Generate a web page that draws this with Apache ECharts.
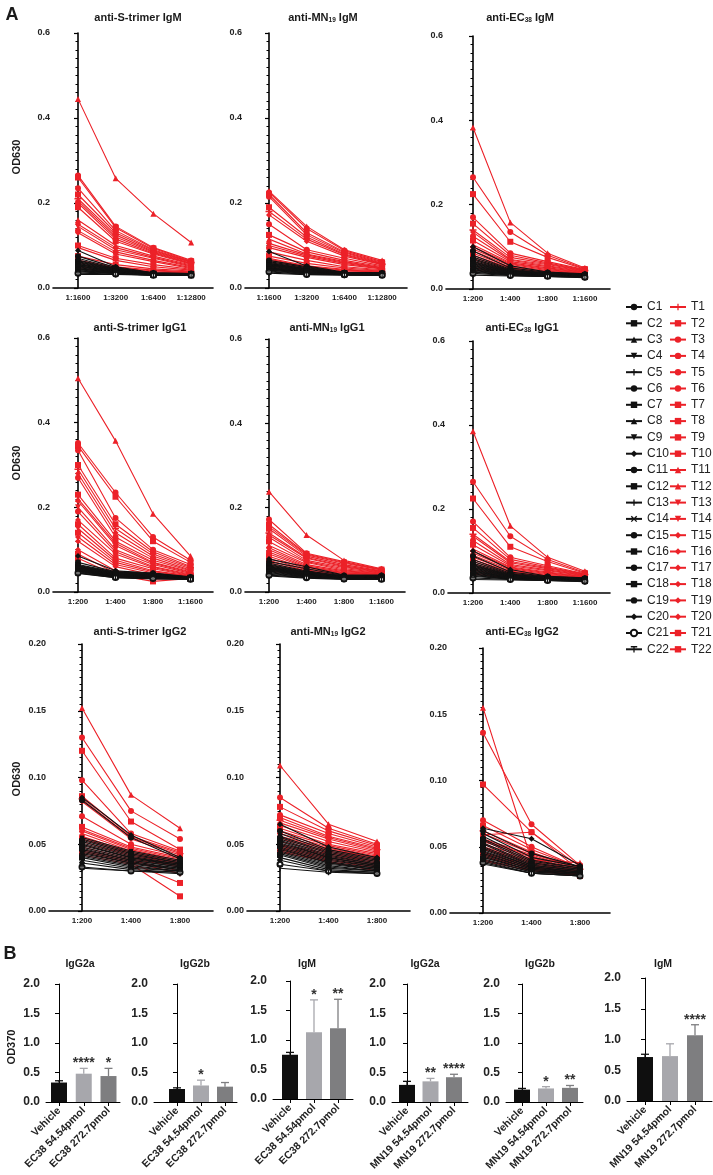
<!DOCTYPE html>
<html><head><meta charset="utf-8">
<script src="https://cdn.jsdelivr.net/npm/echarts@6/dist/echarts.min.js"></script>
<style>html,body{margin:0;padding:0;background:#fff}#c{width:713px;height:1175px}</style>
</head><body><div id="c"></div>
<script>
// ---------- categories ----------
const DIL_A = ['1:1600','1:3200','1:6400','1:12800'];
const DIL_B = ['1:200','1:400','1:800','1:1600'];
const DIL_C = ['1:200','1:400','1:800'];
const C_NAMES = ['C1','C2','C3','C4','C5','C6','C7','C8','C9','C10','C11','C12','C13','C14','C15','C16','C17','C18','C19','C20','C21','C22'];
const T_NAMES = ['T1','T2','T3','T4','T5','T6','T7','T8','T9','T10','T11','T12','T13','T14','T15','T16','T17','T18','T19','T20','T21','T22'];
// animal number for each rank (rank 0 = highest responder)
const T_ORDER = [11,3,7,4,8,1,15,5,9,12,16,13,6,17,10,14,2,18,19,20,21,22];
const C_ORDER = [10,6,2,3,15,7,11,16,4,17,18,19,8,9,1,13,5,12,14,20,21,22];

// ---------- line data: one row per dilution, 22 animals per row (by rank) ----------
const sIgM_T = [
 [0.445,0.265,0.26,0.235,0.22,0.21,0.205,0.2,0.19,0.16,0.15,0.145,0.135,0.13,0.1,0.095,0.075,0.065,0.06,0.055,0.05,0.045],
 [0.258,0.145,0.142,0.135,0.13,0.125,0.12,0.115,0.11,0.1,0.095,0.09,0.085,0.08,0.07,0.065,0.055,0.05,0.048,0.045,0.042,0.04],
 [0.175,0.095,0.093,0.09,0.088,0.086,0.084,0.082,0.08,0.075,0.072,0.07,0.065,0.062,0.055,0.05,0.045,0.042,0.04,0.038,0.036,0.035],
 [0.107,0.065,0.063,0.062,0.061,0.06,0.058,0.057,0.056,0.054,0.052,0.05,0.048,0.046,0.044,0.042,0.04,0.038,0.037,0.036,0.035,0.034]];
const sIgM_C = [
 [0.088,0.075,0.07,0.066,0.064,0.062,0.06,0.058,0.056,0.055,0.053,0.052,0.05,0.048,0.046,0.045,0.043,0.041,0.04,0.038,0.035,0.032],
 [0.05,0.048,0.046,0.045,0.044,0.043,0.042,0.041,0.04,0.04,0.039,0.038,0.037,0.037,0.036,0.036,0.035,0.035,0.034,0.034,0.033,0.032],
 [0.036,0.035,0.035,0.034,0.034,0.034,0.033,0.033,0.033,0.033,0.032,0.032,0.032,0.032,0.031,0.031,0.031,0.031,0.03,0.03,0.03,0.03],
 [0.034,0.034,0.033,0.033,0.033,0.033,0.032,0.032,0.032,0.032,0.032,0.031,0.031,0.031,0.031,0.031,0.03,0.03,0.03,0.03,0.03,0.03]];
const mnIgM_T = [
 [0.228,0.225,0.22,0.215,0.19,0.18,0.172,0.15,0.125,0.115,0.105,0.1,0.095,0.085,0.075,0.07,0.068,0.065,0.06,0.055,0.05,0.045],
 [0.145,0.14,0.13,0.125,0.12,0.115,0.11,0.09,0.085,0.08,0.078,0.075,0.072,0.065,0.058,0.052,0.05,0.048,0.045,0.042,0.04,0.038],
 [0.09,0.088,0.085,0.083,0.08,0.078,0.075,0.07,0.065,0.062,0.06,0.058,0.055,0.05,0.047,0.044,0.042,0.04,0.038,0.036,0.035,0.034],
 [0.065,0.062,0.06,0.058,0.057,0.056,0.055,0.052,0.05,0.048,0.047,0.046,0.045,0.043,0.041,0.04,0.039,0.038,0.036,0.035,0.034,0.033]];
const mnIgM_C = [
 [0.086,0.065,0.062,0.06,0.058,0.057,0.056,0.055,0.054,0.053,0.052,0.05,0.049,0.048,0.047,0.046,0.045,0.043,0.042,0.04,0.038,0.035],
 [0.052,0.05,0.048,0.046,0.045,0.044,0.043,0.042,0.041,0.04,0.039,0.038,0.037,0.036,0.036,0.035,0.035,0.034,0.034,0.033,0.032,0.031],
 [0.037,0.036,0.036,0.035,0.035,0.035,0.034,0.034,0.034,0.034,0.033,0.033,0.033,0.033,0.032,0.032,0.032,0.032,0.031,0.031,0.031,0.03],
 [0.036,0.035,0.035,0.034,0.034,0.034,0.034,0.033,0.033,0.033,0.033,0.033,0.032,0.032,0.032,0.032,0.031,0.031,0.031,0.03,0.03,0.03]];
const ecIgM_T = [
 [0.383,0.265,0.225,0.17,0.155,0.14,0.135,0.125,0.115,0.105,0.1,0.095,0.09,0.085,0.08,0.075,0.07,0.065,0.06,0.055,0.05,0.045],
 [0.158,0.135,0.112,0.085,0.08,0.075,0.07,0.068,0.065,0.062,0.06,0.058,0.055,0.052,0.05,0.048,0.046,0.044,0.042,0.04,0.038,0.036],
 [0.085,0.08,0.075,0.065,0.062,0.06,0.058,0.055,0.053,0.05,0.048,0.046,0.044,0.042,0.04,0.039,0.038,0.037,0.036,0.035,0.034,0.033],
 [0.05,0.048,0.047,0.046,0.045,0.044,0.043,0.042,0.041,0.04,0.039,0.038,0.037,0.036,0.035,0.034,0.033,0.033,0.032,0.031,0.031,0.03]];
const ecIgM_C = [
 [0.1,0.09,0.08,0.076,0.072,0.069,0.066,0.064,0.062,0.06,0.058,0.056,0.054,0.052,0.05,0.048,0.046,0.044,0.042,0.04,0.037,0.033],
 [0.055,0.05,0.047,0.045,0.044,0.043,0.042,0.041,0.04,0.039,0.038,0.037,0.036,0.036,0.035,0.035,0.034,0.034,0.033,0.033,0.032,0.031],
 [0.04,0.039,0.038,0.037,0.036,0.036,0.035,0.035,0.034,0.034,0.033,0.033,0.033,0.032,0.032,0.032,0.031,0.031,0.031,0.03,0.03,0.03],
 [0.036,0.035,0.034,0.034,0.033,0.033,0.032,0.032,0.032,0.031,0.031,0.031,0.03,0.03,0.03,0.03,0.029,0.029,0.029,0.028,0.028,0.027]];
const sIgG1_T = [
 [0.505,0.352,0.345,0.335,0.3,0.29,0.28,0.27,0.23,0.22,0.215,0.2,0.19,0.17,0.16,0.15,0.14,0.13,0.12,0.1,0.09,0.08],
 [0.357,0.235,0.225,0.175,0.16,0.15,0.14,0.13,0.12,0.115,0.11,0.1,0.095,0.09,0.08,0.075,0.07,0.065,0.06,0.05,0.045,0.04],
 [0.185,0.13,0.12,0.1,0.095,0.09,0.085,0.08,0.075,0.07,0.068,0.065,0.06,0.058,0.055,0.05,0.048,0.045,0.04,0.035,0.03,0.025],
 [0.085,0.075,0.07,0.065,0.06,0.058,0.055,0.052,0.05,0.048,0.046,0.044,0.042,0.04,0.039,0.038,0.037,0.036,0.035,0.034,0.033,0.032]];
const sIgG1_C = [
 [0.085,0.07,0.065,0.063,0.062,0.061,0.06,0.059,0.058,0.057,0.056,0.055,0.054,0.053,0.052,0.051,0.05,0.049,0.048,0.046,0.045,0.044],
 [0.05,0.048,0.047,0.046,0.045,0.044,0.043,0.042,0.041,0.04,0.04,0.039,0.038,0.038,0.037,0.037,0.036,0.036,0.035,0.035,0.034,0.034],
 [0.045,0.044,0.043,0.042,0.041,0.04,0.04,0.039,0.038,0.038,0.037,0.036,0.036,0.035,0.035,0.034,0.034,0.033,0.033,0.032,0.032,0.031],
 [0.036,0.035,0.035,0.034,0.034,0.034,0.033,0.033,0.033,0.033,0.032,0.032,0.032,0.032,0.031,0.031,0.031,0.031,0.03,0.03,0.03,0.03]];
const mnIgG1_T = [
 [0.238,0.172,0.16,0.155,0.15,0.14,0.135,0.13,0.12,0.11,0.105,0.1,0.095,0.09,0.085,0.08,0.075,0.07,0.065,0.06,0.055,0.05],
 [0.135,0.092,0.09,0.088,0.085,0.082,0.08,0.075,0.072,0.07,0.065,0.062,0.06,0.058,0.055,0.052,0.05,0.048,0.045,0.043,0.042,0.04],
 [0.075,0.072,0.07,0.068,0.065,0.062,0.06,0.058,0.055,0.052,0.05,0.048,0.046,0.045,0.044,0.042,0.04,0.039,0.038,0.037,0.036,0.035],
 [0.055,0.054,0.053,0.052,0.05,0.049,0.048,0.047,0.046,0.045,0.044,0.043,0.042,0.041,0.04,0.039,0.038,0.037,0.036,0.035,0.034,0.033]];
const mnIgG1_C = [
 [0.078,0.072,0.068,0.066,0.064,0.062,0.06,0.059,0.058,0.057,0.056,0.055,0.054,0.053,0.052,0.05,0.048,0.046,0.044,0.042,0.04,0.038],
 [0.06,0.055,0.05,0.048,0.047,0.046,0.045,0.044,0.043,0.042,0.041,0.04,0.04,0.039,0.038,0.038,0.037,0.036,0.036,0.035,0.034,0.033],
 [0.04,0.039,0.038,0.037,0.037,0.036,0.036,0.035,0.035,0.035,0.034,0.034,0.034,0.033,0.033,0.033,0.032,0.032,0.032,0.031,0.031,0.03],
 [0.04,0.039,0.038,0.037,0.036,0.036,0.035,0.035,0.034,0.034,0.034,0.033,0.033,0.033,0.032,0.032,0.032,0.031,0.031,0.031,0.03,0.03]];
const ecIgG1_T = [
 [0.385,0.265,0.225,0.17,0.155,0.14,0.135,0.125,0.115,0.105,0.1,0.095,0.09,0.085,0.08,0.075,0.07,0.065,0.06,0.055,0.05,0.045],
 [0.16,0.135,0.11,0.085,0.08,0.075,0.072,0.068,0.065,0.062,0.06,0.058,0.055,0.052,0.05,0.048,0.046,0.044,0.042,0.04,0.038,0.036],
 [0.085,0.08,0.075,0.065,0.062,0.06,0.058,0.055,0.053,0.05,0.048,0.046,0.044,0.042,0.04,0.039,0.038,0.037,0.036,0.035,0.034,0.033],
 [0.052,0.049,0.047,0.046,0.045,0.044,0.043,0.042,0.041,0.04,0.039,0.038,0.037,0.036,0.035,0.034,0.033,0.033,0.032,0.031,0.031,0.03]];
const ecIgG1_C = [
 [0.1,0.088,0.08,0.075,0.071,0.068,0.066,0.064,0.062,0.06,0.058,0.056,0.054,0.052,0.05,0.048,0.046,0.044,0.042,0.04,0.036,0.032],
 [0.056,0.05,0.047,0.045,0.044,0.043,0.042,0.041,0.04,0.039,0.038,0.037,0.036,0.036,0.035,0.035,0.034,0.034,0.033,0.033,0.032,0.031],
 [0.04,0.039,0.038,0.037,0.036,0.036,0.035,0.035,0.034,0.034,0.033,0.033,0.033,0.032,0.032,0.032,0.031,0.031,0.031,0.03,0.03,0.03],
 [0.036,0.035,0.034,0.034,0.033,0.033,0.032,0.032,0.032,0.031,0.031,0.031,0.03,0.03,0.03,0.03,0.029,0.029,0.029,0.028,0.028,0.027]];
const sIgG2_T = [
 [0.152,0.13,0.12,0.098,0.086,0.084,0.082,0.071,0.063,0.061,0.06,0.058,0.056,0.055,0.054,0.052,0.05,0.048,0.046,0.045,0.044,0.042],
 [0.087,0.075,0.067,0.058,0.056,0.055,0.054,0.05,0.048,0.047,0.046,0.045,0.044,0.043,0.042,0.041,0.04,0.039,0.038,0.037,0.036,0.035],
 [0.062,0.054,0.046,0.045,0.044,0.043,0.042,0.041,0.04,0.039,0.038,0.037,0.036,0.036,0.035,0.035,0.034,0.033,0.03,0.028,0.021,0.011]];
const sIgG2_C = [
 [0.085,0.083,0.055,0.054,0.053,0.052,0.051,0.05,0.049,0.048,0.047,0.046,0.045,0.044,0.043,0.042,0.041,0.04,0.038,0.036,0.033,0.032],
 [0.057,0.055,0.045,0.044,0.043,0.042,0.041,0.04,0.04,0.039,0.038,0.038,0.037,0.036,0.036,0.035,0.034,0.033,0.032,0.031,0.03,0.03],
 [0.04,0.039,0.038,0.037,0.036,0.036,0.035,0.035,0.034,0.034,0.033,0.033,0.032,0.032,0.031,0.031,0.03,0.03,0.03,0.029,0.029,0.028]];
const mnIgG2_T = [
 [0.109,0.085,0.078,0.072,0.07,0.068,0.066,0.064,0.062,0.06,0.058,0.056,0.055,0.054,0.052,0.05,0.049,0.048,0.047,0.046,0.045,0.044],
 [0.065,0.062,0.06,0.058,0.056,0.055,0.054,0.052,0.05,0.049,0.048,0.047,0.046,0.045,0.044,0.043,0.042,0.041,0.04,0.039,0.038,0.037],
 [0.052,0.05,0.049,0.048,0.047,0.046,0.045,0.044,0.043,0.042,0.041,0.04,0.04,0.039,0.038,0.037,0.036,0.035,0.034,0.033,0.032,0.03]];
const mnIgG2_C = [
 [0.065,0.06,0.058,0.056,0.055,0.054,0.053,0.052,0.051,0.05,0.049,0.048,0.047,0.046,0.045,0.044,0.043,0.042,0.04,0.038,0.035,0.032],
 [0.048,0.046,0.045,0.044,0.043,0.042,0.041,0.04,0.04,0.039,0.038,0.037,0.036,0.036,0.035,0.034,0.033,0.032,0.031,0.03,0.03,0.029],
 [0.04,0.039,0.038,0.037,0.036,0.035,0.035,0.034,0.034,0.033,0.033,0.032,0.032,0.031,0.031,0.03,0.03,0.03,0.029,0.029,0.028,0.028]];
const ecIgG2_T = [
 [0.155,0.136,0.097,0.07,0.066,0.062,0.06,0.059,0.056,0.055,0.054,0.052,0.05,0.049,0.048,0.046,0.045,0.044,0.043,0.042,0.04,0.039],
 [0.04,0.067,0.061,0.05,0.048,0.046,0.045,0.061,0.044,0.043,0.042,0.041,0.04,0.039,0.038,0.037,0.036,0.035,0.034,0.034,0.033,0.032],
 [0.038,0.036,0.035,0.034,0.034,0.033,0.033,0.032,0.032,0.031,0.031,0.031,0.03,0.03,0.03,0.029,0.029,0.029,0.028,0.028,0.028,0.028]];
const ecIgG2_C = [
 [0.064,0.062,0.06,0.058,0.056,0.055,0.053,0.052,0.05,0.049,0.048,0.047,0.046,0.045,0.044,0.043,0.042,0.041,0.04,0.039,0.038,0.037],
 [0.056,0.045,0.042,0.04,0.039,0.038,0.037,0.036,0.036,0.035,0.035,0.034,0.034,0.033,0.033,0.032,0.032,0.031,0.031,0.03,0.03,0.03],
 [0.036,0.035,0.035,0.034,0.034,0.033,0.033,0.032,0.032,0.031,0.031,0.031,0.03,0.03,0.03,0.03,0.029,0.029,0.029,0.028,0.028,0.028]];

// ---------- bar data (panel B) ----------
const EC38_LABELS = ['Vehicle','EC38 54.54pmol','EC38 272.7pmol'];
const MN19_LABELS = ['Vehicle','MN19 54.54pmol','MN19 272.7pmol'];
const EC38_G2A = [0.33,0.48,0.44], EC38_G2A_ERR = [0.03,0.09,0.13], EC38_G2A_SIG = ['','****','*'];
const EC38_G2B = [0.22,0.28,0.26], EC38_G2B_ERR = [0.02,0.09,0.07], EC38_G2B_SIG = ['','*',''];
const EC38_M   = [0.75,1.13,1.2],  EC38_M_ERR   = [0.04,0.55,0.49], EC38_M_SIG   = ['','*','**'];
const MN19_G2A = [0.29,0.35,0.42], MN19_G2A_ERR = [0.06,0.05,0.05], MN19_G2A_SIG = ['','**','****'];
const MN19_G2B = [0.21,0.23,0.24], MN19_G2B_ERR = [0.02,0.03,0.04], MN19_G2B_SIG = ['','*','**'];
const MN19_M   = [0.715,0.73,1.07], MN19_M_ERR  = [0.045,0.2,0.17], MN19_M_SIG   = ['','','****'];

// ---------- styles ----------
const FONT = 'Arial, "Liberation Sans", Helvetica, sans-serif';
const RED = '#ec2128', BLACK = '#111111';
const BAR_COLORS = ['#0f0f0f','#a7a7ac','#7e7e80'];
const INV_TRI = 'path://M0,0L10,0L5,9Z';
const PLUS = 'path://M4,0H6V4H10V6H6V10H4V6H0V4H4Z';
const CROSS = 'path://M1.5,0L5,3.5L8.5,0L10,1.5L6.5,5L10,8.5L8.5,10L5,6.5L1.5,10L0,8.5L3.5,5L0,1.5Z';
const DASH = 'path://M0,4H10V6H0Z';
const TBAR = 'path://M0,0H10V2H6V10H4V2H0Z';
const C_SYM = ['circle','rect','triangle',INV_TRI,PLUS,'circle','rect','triangle',INV_TRI,'diamond','circle',DASH,PLUS,CROSS,'circle','rect','circle','rect','circle','diamond','emptyCircle',TBAR];
const C_SIZE = [4,4,5,5,5,6,6,6,6,6,6,6,6,6,6,6,6,6,6,6,5,6];
const T_SYM = [PLUS,DASH,'circle','circle','circle','circle','rect','rect','rect','rect','triangle','triangle',INV_TRI,INV_TRI,'diamond','diamond','diamond','diamond','diamond','diamond',DASH,'rect'];
const T_SIZE = [7,6,6,6,6,6,6,6,6,6,6,6,6,6,6,6,6,6,6,6,6,6];

const LINE_PANELS = [
 {title:'{m|anti-S-trimer IgM}', tx:138, ty:18, x0:53, x1:213, c0:78, s:37.7, top:33, bot:288, max:0.6, iv:0.2, dec:1, cats:DIL_A, T:sIgM_T, C:sIgM_C},
 {title:'{m|anti-MN}{s|19}{m| IgM}', tx:323, ty:18, x0:245, x1:407, c0:269, s:37.7, top:33, bot:288, max:0.6, iv:0.2, dec:1, cats:DIL_A, T:mnIgM_T, C:mnIgM_C},
 {title:'{m|anti-EC}{s|38}{m| IgM}', tx:520, ty:18, x0:446, x1:610, c0:473, s:37.3, top:36, bot:289, max:0.6, iv:0.2, dec:1, cats:DIL_B, T:ecIgM_T, C:ecIgM_C},
 {title:'{m|anti-S-trimer IgG1}', tx:140, ty:328, x0:53, x1:213, c0:78, s:37.5, top:338, bot:592, max:0.6, iv:0.2, dec:1, cats:DIL_B, T:sIgG1_T, C:sIgG1_C},
 {title:'{m|anti-MN}{s|19}{m| IgG1}', tx:327, ty:328, x0:245, x1:405, c0:269, s:37.5, top:339, bot:592, max:0.6, iv:0.2, dec:1, cats:DIL_B, T:mnIgG1_T, C:mnIgG1_C},
 {title:'{m|anti-EC}{s|38}{m| IgG1}', tx:522, ty:328, x0:448, x1:610, c0:473, s:37.3, top:341, bot:593, max:0.6, iv:0.2, dec:1, cats:DIL_B, T:ecIgG1_T, C:ecIgG1_C},
 {title:'{m|anti-S-trimer IgG2}', tx:140, ty:632, x0:49, x1:213, c0:82, s:49, top:644, bot:911, max:0.2, iv:0.05, dec:2, cats:DIL_C, T:sIgG2_T, C:sIgG2_C},
 {title:'{m|anti-MN}{s|19}{m| IgG2}', tx:328, ty:632, x0:247, x1:410, c0:280, s:48.5, top:644, bot:911, max:0.2, iv:0.05, dec:2, cats:DIL_C, T:mnIgG2_T, C:mnIgG2_C},
 {title:'{m|anti-EC}{s|38}{m| IgG2}', tx:522, ty:632, x0:450, x1:610, c0:483, s:48.5, top:648, bot:913, max:0.2, iv:0.05, dec:2, cats:DIL_C, T:ecIgG2_T, C:ecIgG2_C}
];
const BAR_PANELS = [
 {title:'IgG2a', tx:80, x0:46, x1:120, c0:59, s:24.75, top:984, bot:1102, labels:EC38_LABELS, vals:EC38_G2A, err:EC38_G2A_ERR, sig:EC38_G2A_SIG},
 {title:'IgG2b', tx:195, x0:154, x1:237, c0:177, s:24, top:984, bot:1102, labels:EC38_LABELS, vals:EC38_G2B, err:EC38_G2B_ERR, sig:EC38_G2B_SIG},
 {title:'IgM', tx:307, x0:273, x1:353, c0:290, s:24, top:981, bot:1099, labels:EC38_LABELS, vals:EC38_M, err:EC38_M_ERR, sig:EC38_M_SIG},
 {title:'IgG2a', tx:425, x0:392, x1:468, c0:407, s:23.5, top:984, bot:1102, labels:MN19_LABELS, vals:MN19_G2A, err:MN19_G2A_ERR, sig:MN19_G2A_SIG},
 {title:'IgG2b', tx:540, x0:506, x1:583, c0:522, s:24, top:984, bot:1102, labels:MN19_LABELS, vals:MN19_G2B, err:MN19_G2B_ERR, sig:MN19_G2B_SIG},
 {title:'IgM', tx:663, x0:627, x1:712, c0:645, s:25, top:978, bot:1101, labels:MN19_LABELS, vals:MN19_M, err:MN19_M_ERR, sig:MN19_M_SIG}
];

const grids = [], xAxes = [], yAxes = [], series = [], graphics = [];
const txt = (text, x, y, size, weight, extra) => Object.assign({type:'text', x, y, silent:true, style:{text, fontSize:size, fontWeight:weight, fontFamily:FONT, fill:'#1a1a1a', align:'center', verticalAlign:'middle'}}, extra||{});

LINE_PANELS.forEach((p, i) => {
  const n = p.cats.length;
  grids.push({left:p.x0, top:p.top, width:p.x1-p.x0, height:p.bot-p.top, containLabel:false, outerBoundsMode:'none'});
  const xmin = -(p.c0-p.x0)/p.s, xmax = (n-1) + (p.x1-p.c0-(n-1)*p.s)/p.s;
  xAxes.push({gridIndex:i, type:'value', min:xmin, max:xmax,
    axisLine:{show:true, onZero:false, lineStyle:{color:'#000', width:1.6}}, axisTick:{show:false}, splitLine:{show:false},
    axisLabel:{customValues:p.cats.map((_,k)=>k), formatter:v=>p.cats[Math.round(v)], fontSize:8, fontWeight:'bold', color:'#222', fontFamily:FONT, margin:6}});
  yAxes.push({gridIndex:i, type:'value', min:0, max:p.max, interval:p.iv,
    axisLine:{show:true, lineStyle:{color:'#000', width:1.6}}, axisTick:{show:true, length:4, lineStyle:{color:'#000', width:1.2}},
    minorTick:{show:true, splitNumber:10, length:2.5, lineStyle:{color:'#000', width:1}}, splitLine:{show:false}, minorSplitLine:{show:false},
    axisLabel:{fontSize:9, fontWeight:'bold', color:'#222', fontFamily:FONT, margin:3, formatter:v=>v.toFixed(p.dec)}});
  T_ORDER.forEach((num, r) => series.push({type:'line', name:'T'+num, xAxisIndex:i, yAxisIndex:i,
    data:p.T.map((col,d)=>[d,col[r]]), symbol:T_SYM[num-1], symbolSize:T_SIZE[num-1],
    itemStyle:{color:RED}, lineStyle:{color:RED, width:1.1}, z:2, animation:false, emphasis:{disabled:true}}));
  C_ORDER.forEach((num, r) => series.push({type:'line', name:'C'+num, xAxisIndex:i, yAxisIndex:i,
    data:p.C.map((col,d)=>[d,col[r]]), symbol:C_SYM[num-1], symbolSize:C_SIZE[num-1],
    itemStyle:{color:BLACK}, lineStyle:{color:BLACK, width:1.1}, z:3, animation:false, emphasis:{disabled:true}}));
  graphics.push({type:'text', x:p.tx, y:p.ty, silent:true, style:{text:p.title, align:'center', verticalAlign:'middle',
    rich:{m:{fontSize:11, fontWeight:'bold', fontFamily:FONT, fill:'#1a1a1a', color:'#1a1a1a'},
          s:{fontSize:6.5, fontWeight:'bold', fontFamily:FONT, fill:'#1a1a1a', color:'#1a1a1a', verticalAlign:'bottom'}}}});
});

BAR_PANELS.forEach((b, j) => {
  const gi = LINE_PANELS.length + j;
  grids.push({left:b.x0, top:b.top, width:b.x1-b.x0, height:b.bot-b.top, containLabel:false, outerBoundsMode:'none'});
  const xmin = -(b.c0-b.x0)/b.s, xmax = 2 + (b.x1-b.c0-2*b.s)/b.s;
  xAxes.push({gridIndex:gi, type:'value', min:xmin, max:xmax,
    axisLine:{show:true, onZero:false, lineStyle:{color:'#000', width:1}},
    axisTick:{show:true, customValues:[0,1,2], length:4, lineStyle:{color:'#000', width:1}}, splitLine:{show:false},
    axisLabel:{customValues:[0,1,2], formatter:v=>b.labels[Math.round(v)], rotate:45, fontSize:10.5, fontWeight:'bold', color:'#222', fontFamily:FONT, margin:7}});
  yAxes.push({gridIndex:gi, type:'value', min:0, max:2, interval:0.5,
    axisLine:{show:true, lineStyle:{color:'#000', width:1}}, axisTick:{show:true, length:4, lineStyle:{color:'#000', width:1}}, splitLine:{show:false},
    axisLabel:{fontSize:12, fontWeight:'bold', color:'#222', fontFamily:FONT, margin:6, formatter:v=>v.toFixed(1)}});
  series.push({type:'bar', xAxisIndex:gi, yAxisIndex:gi, barWidth:16, animation:false, emphasis:{disabled:true},
    data:b.vals.map((v,k)=>({value:[k,v], itemStyle:{color:BAR_COLORS[k]}}))});
  series.push({type:'custom', xAxisIndex:gi, yAxisIndex:gi, z:5, animation:false, silent:true,
    data:b.vals.map((v,k)=>[k,v,b.err[k]]), encode:{x:0, y:1},
    renderItem:(params, api) => {
      const k = params.dataIndex;
      const p0 = api.coord([api.value(0), api.value(1)]);
      const p1 = api.coord([api.value(0), api.value(1)+api.value(2)]);
      const col = BAR_COLORS[k];
      const ch = [
        {type:'line', shape:{x1:p0[0], y1:p0[1], x2:p1[0], y2:p1[1]}, style:{stroke:col, lineWidth:1.3}},
        {type:'line', shape:{x1:p1[0]-4, y1:p1[1], x2:p1[0]+4, y2:p1[1]}, style:{stroke:col, lineWidth:1.3}}];
      if (b.sig[k]) ch.push({type:'text', x:p1[0], y:p1[1]+2, style:{text:b.sig[k], align:'center', verticalAlign:'bottom', fontSize:14, fontWeight:'bold', fontFamily:FONT, fill:'#333'}});
      return {type:'group', children:ch};
    }});
  graphics.push(txt(b.title, b.tx, 964, 10.5, 'bold'));
});

graphics.push(txt('A', 12, 15, 18, 'bold'));
graphics.push(txt('B', 10, 954, 18, 'bold'));
graphics.push(txt('OD630', 17, 157, 11, 'bold', {rotation:Math.PI/2}));
graphics.push(txt('OD630', 17, 463, 11, 'bold', {rotation:Math.PI/2}));
graphics.push(txt('OD630', 17, 779, 11, 'bold', {rotation:Math.PI/2}));
graphics.push(txt('OD370', 12, 1047, 11, 'bold', {rotation:Math.PI/2}));

const legendCommon = {orient:'vertical', top:296, itemWidth:16, itemHeight:8, itemGap:4.3, selectedMode:false,
  textStyle:{fontSize:12, color:'#222', fontFamily:FONT, lineHeight:12}};
const option = {
  backgroundColor:'#fff', animation:false,
  grid:grids, xAxis:xAxes, yAxis:yAxes, series:series, graphic:graphics,
  legend:[Object.assign({data:C_NAMES, left:620}, legendCommon), Object.assign({data:T_NAMES, left:664}, legendCommon)]
};
const chart = echarts.init(document.getElementById('c'), null, {renderer:'canvas', width:713, height:1175});
chart.setOption(option);
</script></body></html>
